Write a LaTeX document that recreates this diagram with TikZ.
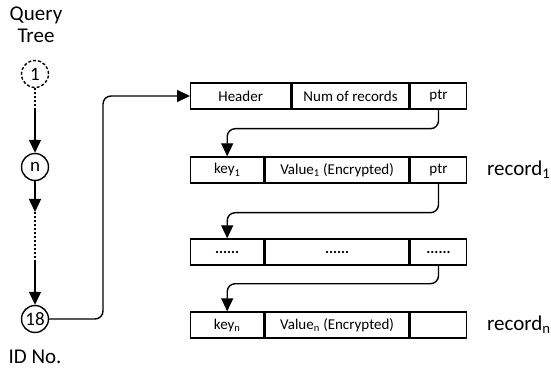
\documentclass[tikz,border=0pt]{standalone}
\usepackage{fontspec}
\setmainfont{Carlito}
\usetikzlibrary{arrows.meta,calc,positioning}

\begin{document}
\begin{tikzpicture}[x=1pt,y=-1pt,line width=1.4pt,
  >={Triangle[length=13pt,width=12pt]},
  cell/.style={draw,minimum height=26pt,inner sep=0pt,anchor=west,
    font=\fontsize{15}{15}\selectfont},
  idnode/.style={draw,circle,minimum size=27pt,inner sep=0pt,
    font=\fontsize{19}{19}\selectfont},
  dots/.style={dash pattern=on 2pt off 2pt},
  lbl/.style={font=\fontsize{21}{22}\selectfont,align=center}]
  \useasboundingbox (0,0) rectangle (551,371);
  \node[lbl] (qt) at (36,25) {Query\\Tree};
  \node[idnode,dash pattern=on 3pt off 2pt] (c1) at (35,74) {1};
  \node[idnode] (cn) at (35,167) {n};
  \node[idnode] (c18) at (35,319) {18};
  \node[lbl] (idno) at (35,357) {ID No.};
  \coordinate (m1) at (35,110);
  \coordinate (m2) at (35,212);
  \coordinate (m3) at (35,262);
  \draw[dots] (c1) -- (m1);
  \draw[->] (m1) -- (cn);
  \draw[->] (cn) -- (m2);
  \draw[dots] (m2) -- (m3);
  \draw[->] (m3) -- (c18);
  \node[cell,minimum width=100pt] (hdr) at (190,96) {Header};
  \node[cell,minimum width=117pt] (num) at (hdr.east) {Num of records};
  \node[cell,minimum width=56pt] (p0) at (num.east) {ptr};
  \node[cell,minimum width=73pt] (k1) at (190,170) {key\textsubscript{1}};
  \node[cell,minimum width=144pt] (v1) at (k1.east) {Value\textsubscript{1} (Encrypted)};
  \node[cell,minimum width=56pt] (p1) at (v1.east) {ptr};
  \node[cell,minimum width=73pt] (kd) at (190,252) {\textbf{......}};
  \node[cell,minimum width=144pt] (vd) at (kd.east) {\textbf{......}};
  \node[cell,minimum width=56pt] (pd) at (vd.east) {\textbf{......}};
  \node[cell,minimum width=73pt] (kn) at (190,325) {key\textsubscript{n}};
  \node[cell,minimum width=144pt] (vn) at (kn.east) {Value\textsubscript{n} (Encrypted)};
  \node[cell,minimum width=56pt] (pn) at (vn.east) {};
  \node[lbl,anchor=west] (r1) at (483,170) {record\textsubscript{1}};
  \node[lbl,anchor=west] (rn) at (483,325) {record\textsubscript{n}};
  \coordinate (bend) at (103,96);
  \draw[->,rounded corners=8pt] (c18) -| (bend) -- (hdr);
  \draw[->,rounded corners=8pt] (p0.south) -- ++(0,19) -| (k1.north);
  \draw[->,rounded corners=8pt] (p1.south) -- ++(0,29) -| (kd.north);
  \draw[->,rounded corners=8pt] (pd.south) -- ++(0,18) -| (kn.north);
\end{tikzpicture}
\end{document}
